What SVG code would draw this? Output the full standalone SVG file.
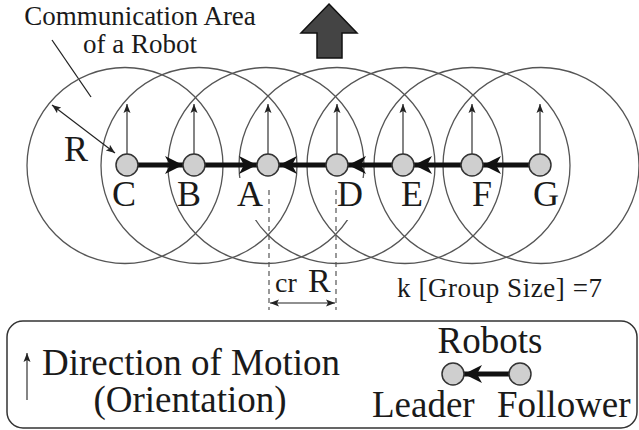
<svg xmlns="http://www.w3.org/2000/svg" width="639" height="430" viewBox="0 0 639 430">
  <style>
    text { font-family: 'Liberation Serif', 'Times New Roman', Times, serif; fill: #1a1a1a; }
    .area { fill: none; stroke: #555; stroke-width: 1.3; }
    .robot { fill: #cfcfcf; stroke: #333; stroke-width: 1.5; }
    .link { stroke: #111; stroke-width: 5; fill: none; marker-end: url(#thick); }
    .heading { stroke: #333; stroke-width: 1.2; fill: none; marker-end: url(#thin); }
    .dash { stroke: #555; stroke-width: 1.2; stroke-dasharray: 5 4; fill: none; }
    .knock { fill: #fff; stroke: none; }
  </style>
  <defs>
    <marker id="thick" markerUnits="userSpaceOnUse" markerWidth="20" markerHeight="20" refX="18" refY="9" orient="auto" viewBox="0 0 20 18">
      <path d="M18,9 L0,0 L5,9 L0,18 Z" fill="#111"/>
    </marker>
    <marker id="thin" markerUnits="userSpaceOnUse" markerWidth="10" markerHeight="8" refX="9" refY="3.5" orient="auto" viewBox="0 0 10 7">
      <path d="M9,3.5 L0,0 L2,3.5 L0,7 Z" fill="#222"/>
    </marker>
    <marker id="thinStart" markerUnits="userSpaceOnUse" markerWidth="10" markerHeight="8" refX="1" refY="3.5" orient="auto" viewBox="0 0 10 7">
      <path d="M1,3.5 L10,0 L8,3.5 L10,7 Z" fill="#222"/>
    </marker>
  </defs>

  <!-- heading of the whole group -->
  <g id="motion-arrow">
    <path d="M329,4 L357,33 L342,33 L342,58 L317,58 L317,33 L301,33 Z" fill="#444" stroke="#111" stroke-width="1.5"/>
  </g>

  <!-- caption for the communication range -->
  <g id="area-caption">
    <text x="140" y="25" font-size="27" text-anchor="middle">Communication Area</text>
    <text x="140" y="53" font-size="27" text-anchor="middle">of a Robot</text>
    <line x1="52" y1="40" x2="91" y2="97" stroke="#222" stroke-width="1.3"/>
  </g>

  <!-- communication ranges, radius R around each robot -->
  <g id="ranges">
    <circle class="area" cx="125" cy="165.5" r="98"/>
    <circle class="area" cx="199" cy="165.5" r="98"/>
    <circle class="area" cx="266" cy="165.5" r="98"/>
    <circle class="area" cx="337" cy="165.5" r="98"/>
    <circle class="area" cx="405" cy="165.5" r="98"/>
    <circle class="area" cx="472" cy="165.5" r="98"/>
    <circle class="area" cx="541" cy="165.5" r="98"/>
  </g>

  <!-- radius indicator -->
  <g id="radius">
    <line x1="52" y1="105" x2="115" y2="153" stroke="#222" stroke-width="1.2" marker-start="url(#thinStart)" marker-end="url(#thin)"/>
    <text x="64" y="161" font-size="36">R</text>
  </g>

  <!-- leader/follower connectors -->
  <g id="connectors">
    <line class="link" x1="138" y1="165" x2="183" y2="165"/>
    <line class="link" x1="205" y1="165" x2="257" y2="165"/>
    <line class="link" x1="326" y1="165" x2="279" y2="165"/>
    <line class="link" x1="392" y1="165" x2="348" y2="165"/>
    <line class="link" x1="461" y1="165" x2="414" y2="165"/>
    <line class="link" x1="529" y1="165" x2="483" y2="165"/>
  </g>

  <g id="robot-C">
    <line class="heading" x1="127" y1="154" x2="127" y2="104"/>
    <circle class="robot" cx="127" cy="165" r="11"/>
    <text x="112" y="206" font-size="36">C</text>
  </g>
  <g id="robot-B">
    <line class="heading" x1="194" y1="154" x2="194" y2="104"/>
    <circle class="robot" cx="194" cy="165" r="11"/>
    <text x="177" y="206" font-size="36">B</text>
  </g>
  <g id="robot-A">
    <rect class="knock" x="234" y="178" width="32" height="42"/>
    <line class="heading" x1="268" y1="154" x2="268" y2="104"/>
    <circle class="robot" cx="268" cy="165" r="11"/>
    <text x="237" y="206" font-size="36">A</text>
  </g>
  <g id="robot-D">
    <rect class="knock" x="338" y="178" width="30" height="42"/>
    <line class="heading" x1="337" y1="154" x2="337" y2="104"/>
    <circle class="robot" cx="337" cy="165" r="11"/>
    <text x="337" y="206" font-size="36">D</text>
  </g>
  <g id="robot-E">
    <line class="heading" x1="403" y1="154" x2="403" y2="104"/>
    <circle class="robot" cx="403" cy="165" r="11"/>
    <text x="401" y="206" font-size="36">E</text>
  </g>
  <g id="robot-F">
    <line class="heading" x1="472" y1="154" x2="472" y2="104"/>
    <circle class="robot" cx="472" cy="165" r="11"/>
    <text x="472" y="206" font-size="36">F</text>
  </g>
  <g id="robot-G">
    <line class="heading" x1="540" y1="154" x2="540" y2="104"/>
    <circle class="robot" cx="540" cy="165" r="11"/>
    <text x="533" y="206" font-size="36">G</text>
  </g>

  <!-- spacing between A and D -->
  <g id="spacing">
    <line class="dash" x1="269" y1="190" x2="269" y2="310"/>
    <line class="dash" x1="336" y1="190" x2="336" y2="310"/>
    <line x1="270" y1="303" x2="335" y2="303" stroke="#222" stroke-width="1.1" marker-start="url(#thinStart)" marker-end="url(#thin)"/>
    <text x="275" y="292" font-size="28">cr</text>
    <text x="308" y="292" font-size="34">R</text>
  </g>

  <g id="group-size">
    <text x="397" y="297" font-size="27" textLength="205">k [Group Size] =7</text>
  </g>

  <!-- legend -->
  <g id="legend">
    <rect x="7" y="321" width="630" height="107" rx="16" fill="none" stroke="#333" stroke-width="1.5"/>
    <line class="heading" x1="27" y1="400" x2="27" y2="353"/>
    <text x="42" y="375" font-size="37">Direction of Motion</text>
    <text x="190" y="412" font-size="37" text-anchor="middle">(Orientation)</text>
    <text x="490" y="353" font-size="37" text-anchor="middle">Robots</text>
    <line class="link" x1="509" y1="374" x2="464" y2="374"/>
    <circle class="robot" cx="453" cy="374" r="11"/>
    <circle class="robot" cx="520" cy="374" r="11"/>
    <text x="372" y="417" font-size="37">Leader</text>
    <text x="497" y="417" font-size="37">Follower</text>
  </g>
</svg>
